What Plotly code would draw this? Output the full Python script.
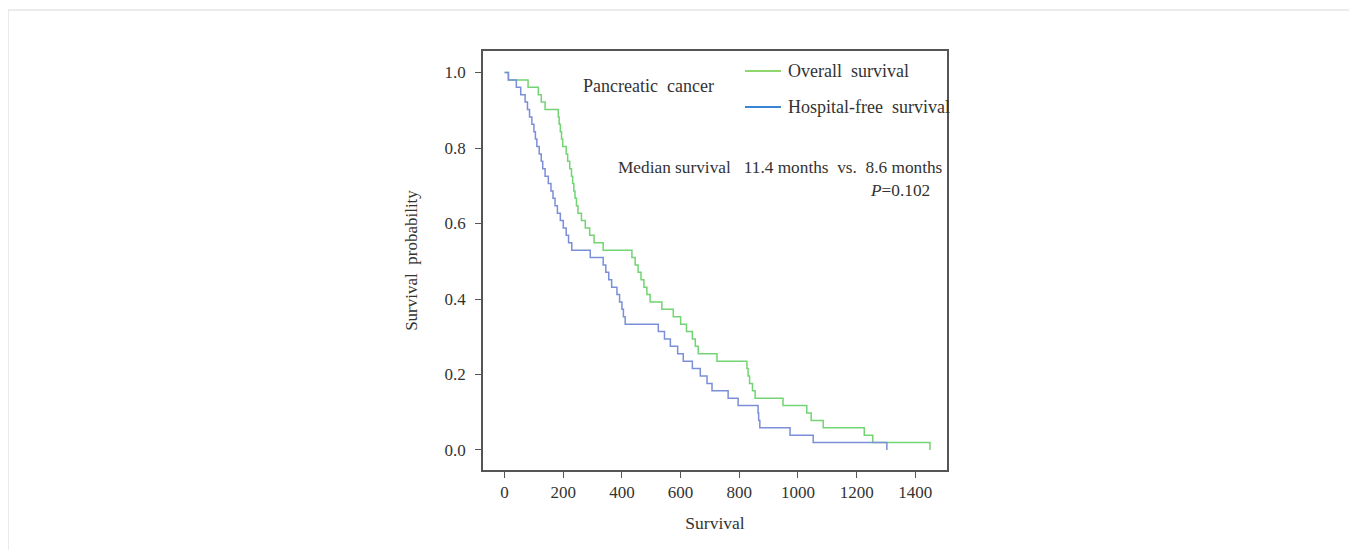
import plotly.graph_objects as go

# Overall survival (Kaplan-Meier step change points: time, survival after)
os_time = [0, 13, 80, 115, 125, 138, 183, 186, 190, 194, 198, 210, 215, 222, 228, 232, 236,
           240, 245, 250, 262, 275, 290, 305, 336, 434, 445, 455, 465, 475, 485, 496, 536,
           575, 600, 620, 640, 650, 660, 724, 826, 830, 835, 845, 854, 949, 1030, 1045,
           1086, 1226, 1255, 1450]
os_surv = [1.0, 0.980, 0.961, 0.941, 0.922, 0.902, 0.882, 0.863, 0.843, 0.824, 0.804, 0.784,
           0.765, 0.745, 0.725, 0.706, 0.686, 0.667, 0.647, 0.627, 0.608, 0.588, 0.569, 0.549,
           0.529, 0.510, 0.490, 0.471, 0.451, 0.431, 0.412, 0.392, 0.373, 0.353, 0.333, 0.314,
           0.294, 0.275, 0.255, 0.235, 0.216, 0.196, 0.176, 0.157, 0.137, 0.118, 0.098, 0.078,
           0.059, 0.039, 0.020, 0.0]

# Hospital-free survival
hf_time = [0, 13, 40, 55, 70, 78, 85, 93, 100, 105, 110, 118, 125, 130, 138, 149, 158, 165,
           172, 180, 190, 200, 210, 218, 229, 292, 336, 345, 355, 365, 383, 392, 400, 405, 411,
           524, 545, 565, 590, 609, 640, 667, 690, 707, 762, 796, 864, 866, 870, 973, 1052, 1303]
hf_surv = [1.0, 0.980, 0.961, 0.941, 0.922, 0.902, 0.882, 0.863, 0.843, 0.824, 0.804, 0.784,
           0.765, 0.745, 0.725, 0.706, 0.686, 0.667, 0.647, 0.627, 0.608, 0.588, 0.569, 0.549,
           0.529, 0.510, 0.490, 0.471, 0.451, 0.431, 0.412, 0.392, 0.373, 0.353, 0.333, 0.314,
           0.294, 0.275, 0.255, 0.235, 0.216, 0.196, 0.176, 0.157, 0.137, 0.118, 0.098, 0.078,
           0.059, 0.039, 0.020, 0.0]

x_ticks = [0, 200, 400, 600, 800, 1000, 1200, 1400]
y_ticks = [0.0, 0.2, 0.4, 0.6, 0.8, 1.0]

series_names = ["Overall  survival", "Hospital-free  survival"]
FONT = "Liberation Serif, Times New Roman, serif"
TXT = "#333333"

fig = go.Figure()
fig.add_trace(go.Scatter(x=os_time, y=os_surv, mode="lines", line_shape="hv",
                         line=dict(color="#72d472", width=1.5), showlegend=False))
fig.add_trace(go.Scatter(x=hf_time, y=hf_surv, mode="lines", line_shape="hv",
                         line=dict(color="#7b8fd8", width=1.5), showlegend=False))

OFF = 8  # page body offset
W, H = 1357, 550
L, R, T, B = 483 - OFF, 947 - OFF, 51 - OFF, 470 - OFF

def px(xp):
    return (xp - OFF - L) / (R - L)

def py(yp):
    return (B - (yp - OFF)) / (B - T)

# page border
fig.add_shape(type="rect", xref="paper", yref="paper",
              x0=px(8), x1=px(1420), y0=py(10), y1=py(620),
              line=dict(color="#d8d8d8", width=1), layer="below")

# custom legend
leg = [("#8fd66f", series_names[0], 71), ("#3a86d4", series_names[1], 107)]
for col, name, yy in leg:
    fig.add_shape(type="line", xref="paper", yref="paper",
                  x0=px(745), x1=px(781), y0=py(yy), y1=py(yy),
                  line=dict(color=col, width=2))
    fig.add_annotation(xref="paper", yref="paper", x=px(786), y=py(yy),
                       text=name, showarrow=False, xanchor="left", yanchor="middle",
                       font=dict(family=FONT, size=18, color=TXT))

fig.add_annotation(xref="paper", yref="paper", x=px(581), y=py(86),
                   text="Pancreatic  cancer", showarrow=False, xanchor="left",
                   yanchor="middle", font=dict(family=FONT, size=18, color=TXT))
fig.add_annotation(xref="paper", yref="paper", x=px(616), y=py(167),
                   text="Median survival   11.4 months  vs.  8.6 months", showarrow=False,
                   xanchor="left", yanchor="middle", font=dict(family=FONT, size=17.3, color=TXT))
fig.add_annotation(xref="paper", yref="paper", x=px(932), y=py(190),
                   text="<i>P</i>=0.102", showarrow=False,
                   xanchor="right", yanchor="middle", font=dict(family=FONT, size=17.3, color=TXT))

fig.update_layout(
    width=W, height=H,
    margin=dict(l=L, r=W - R, t=T, b=H - B),
    paper_bgcolor="white", plot_bgcolor="white",
    font=dict(family=FONT, size=17, color=TXT),
    xaxis=dict(range=[-73.6, 1508], tickvals=x_ticks, ticks="outside", ticklen=6,
               tickcolor="#555", tickwidth=1.3, showline=True, linecolor="#555",
               linewidth=1.5, mirror=True, showgrid=False, zeroline=False,
               title=dict(text="Survival", standoff=16, font=dict(size=17.5)),
               tickfont=dict(size=17)),
    yaxis=dict(range=[-0.053, 1.057], tickvals=y_ticks, tickformat=".1f", ticks="outside",
               ticklen=6, tickcolor="#555", tickwidth=1.3, showline=True, linecolor="#555",
               linewidth=1.5, mirror=True, showgrid=False, zeroline=False,
               ticklabelstandoff=6,
               title=dict(text="Survival  probability", standoff=23, font=dict(size=17)),
               tickfont=dict(size=17)),
)

fig.write_html("out.html")
